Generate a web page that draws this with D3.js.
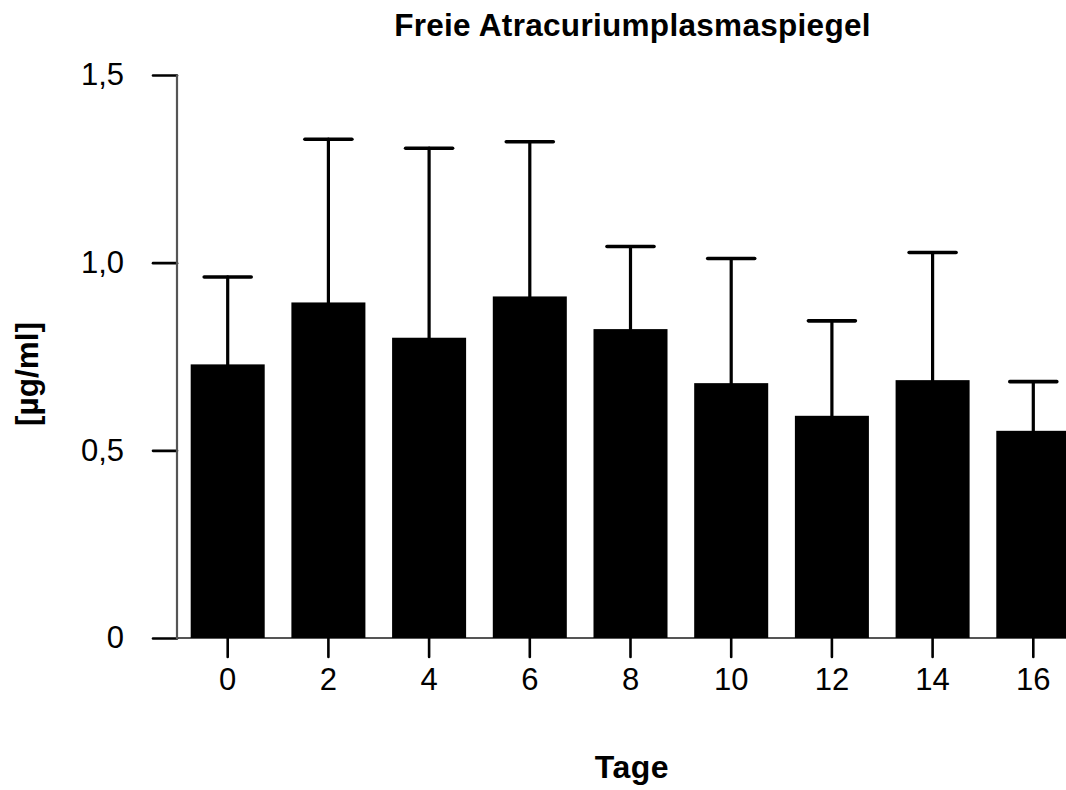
<!DOCTYPE html>
<html>
<head>
<meta charset="utf-8">
<script src="https://cdn.jsdelivr.net/npm/d3@7"></script>
<style>
  html, body { margin: 0; padding: 0; background: #fff; }
  svg { display: block; font-family: "Liberation Sans", Arial, Helvetica, sans-serif; }
</style>
</head>
<body>
<svg id="chart" width="1066" height="790"></svg>
<script>
const days = ["0", "2", "4", "6", "8", "10", "12", "14", "16"];
const means = [0.729, 0.894, 0.800, 0.910, 0.823, 0.679, 0.592, 0.687, 0.552];
const upper = [0.962, 1.329, 1.305, 1.322, 1.043, 1.011, 0.845, 1.027, 0.683];
const yTicks = [0, 0.5, 1.0, 1.5];
const yTickLabels = ["0", "0,5", "1,0", "1,5"];
const title = "Freie Atracuriumplasmaspiegel";
const xTitle = "Tage";
const yTitle = "[µg/ml]";

const svg = d3.select("#chart");

const y = d3.scaleLinear().domain([0, 1.5]).range([638, 75]);
const x = d3.scaleBand().domain(days)
  .range([177.35, 1083.65]).paddingInner(0.265).paddingOuter(0.1325);

const axisX = 177;

// x baseline (grey), under bars
svg.append("line")
  .attr("x1", axisX).attr("x2", 1066)
  .attr("y1", y(0)).attr("y2", y(0))
  .attr("stroke", "#555").attr("stroke-width", 2);

// bars
svg.append("g").selectAll("rect").data(days).join("rect")
  .attr("x", d => x(d))
  .attr("width", x.bandwidth())
  .attr("y", (d, i) => y(means[i]))
  .attr("height", (d, i) => y(0) - y(means[i]))
  .attr("fill", "#000");

// error bars
const eb = svg.append("g").attr("stroke", "#000").attr("stroke-linecap", "round");
days.forEach((d, i) => {
  const cx = x(d) + x.bandwidth() / 2;
  eb.append("line")
    .attr("x1", cx).attr("x2", cx)
    .attr("y1", y(means[i])).attr("y2", y(upper[i]))
    .attr("stroke-width", 3.2);
  eb.append("line")
    .attr("x1", cx - 23.5).attr("x2", cx + 23.5)
    .attr("y1", y(upper[i])).attr("y2", y(upper[i]))
    .attr("stroke-width", 3.6);
});

// y axis
const yAxis = d3.axisLeft(y).tickValues(yTicks)
  .tickFormat((d, i) => yTickLabels[i]).tickSize(24).tickPadding(29);
const gy = svg.append("g").attr("transform", `translate(${axisX},0)`).call(yAxis);
gy.select(".domain").remove();
gy.selectAll(".tick line").attr("stroke", "#000").attr("stroke-width", 2.6).attr("stroke-linecap", "round");
gy.selectAll(".tick text").attr("font-size", 31).attr("fill", "#000")
  .attr("font-family", "Liberation Sans, Arial, sans-serif");
svg.append("line")
  .attr("x1", axisX).attr("x2", axisX)
  .attr("y1", y(1.5)).attr("y2", y(0) + 1)
  .attr("stroke", "#555").attr("stroke-width", 2.2);

// x axis ticks
const xAxis = d3.axisBottom(x).tickSize(19).tickPadding(11);
const gx = svg.append("g").attr("transform", `translate(0,${y(0)})`).call(xAxis);
gx.select(".domain").remove();
gx.selectAll(".tick line").attr("stroke", "#000").attr("stroke-width", 2.6).attr("stroke-linecap", "round");
gx.selectAll(".tick text").attr("font-size", 31).attr("fill", "#000")
  .attr("font-family", "Liberation Sans, Arial, sans-serif");

// titles
svg.append("text")
  .attr("x", 632.5).attr("y", 36)
  .attr("text-anchor", "middle")
  .attr("font-size", 31.5).attr("font-weight", "bold")
  .attr("letter-spacing", 0.3)
  .text(title);

svg.append("text")
  .attr("x", 632).attr("y", 778)
  .attr("text-anchor", "middle")
  .attr("font-size", 32).attr("font-weight", "bold")
  .attr("letter-spacing", 0.5)
  .text(xTitle);

svg.append("text")
  .attr("transform", "translate(38,374) rotate(-90)")
  .attr("text-anchor", "middle")
  .attr("font-size", 31.5).attr("font-weight", "bold")
  .text(yTitle);
</script>
</body>
</html>
